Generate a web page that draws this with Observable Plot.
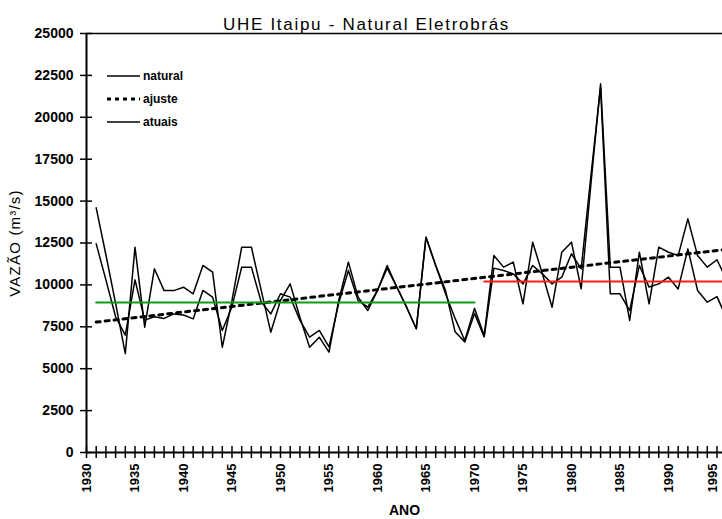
<!DOCTYPE html>
<html><head><meta charset="utf-8">
<script src="https://cdn.jsdelivr.net/npm/d3@7"></script>
<script src="https://cdn.jsdelivr.net/npm/@observablehq/plot@0.6"></script>
<style>
body{margin:0;background:#fff;}
#wrap{position:relative;width:722px;height:519px;overflow:hidden;background:#fff;}
#legend{position:absolute;left:107px;top:64px;font:bold 12px "Liberation Sans",Arial,sans-serif;color:#000;}
.row{height:23px;display:flex;align-items:center;}
.row svg{margin-right:3px;}
</style></head><body><div id="wrap"><div id="chart"></div><div id="legend"></div></div>
<script>
const titulo = "UHE Itaipu - Natural Eletrobrás";
const rotuloY = "VAZÃO (m³/s)";
const rotuloX = "ANO";
const anos = [1931,1932,1933,1934,1935,1936,1937,1938,1939,1940,1941,1942,1943,1944,1945,1946,1947,1948,1949,1950,
  1951,1952,1953,1954,1955,1956,1957,1958,1959,1960,1961,1962,1963,1964,1965,1966,1967,1968,1969,1970,
  1971,1972,1973,1974,1975,1976,1977,1978,1979,1980,1981,1982,1983,1984,1985,1986,1987,1988,1989,1990,
  1991,1992,1993,1994,1995,1996];
const natural = [14600,11800,8900,5900,12250,7480,10960,9660,9660,9860,9470,11160,10760,6280,9070,12250,12250,9700,7180,9070,
  10060,8070,6280,6880,5990,9070,11360,9270,8470,9670,11160,9860,8670,7380,12850,11160,9500,8000,6680,8600,
  6980,11750,11060,11360,8870,12550,10660,8670,11950,12550,9770,16000,22000,11060,11060,7880,11950,8870,12250,11950,
  11750,13940,11750,11060,11500,10300];
const atuais = [12450,10300,8100,7000,10300,7900,8100,8000,8270,8200,7970,9670,9270,7280,8700,11060,11060,9000,8270,9470,
  9270,7900,6880,7280,6300,8900,10860,9070,8670,9670,11000,9860,8670,7380,12850,11160,9700,7200,6600,8300,
  6900,11000,10860,10660,10060,11160,10660,10060,10460,11860,10960,16500,21800,9470,9470,8470,11160,9870,10060,10460,
  9760,12150,9670,8970,9300,8000];
const ajusteAnos = [1931, 1996];
const ajusteValores = [7780, 12120];
const mediaInicio = [1931, 1971];
const mediaFim = [1970, 1996];
const mediaValor = [8950, 10200];
const mediaCor = ["#109c10", "#ff1a1a"];
const yTicks = [0,2500,5000,7500,10000,12500,15000,17500,20000,22500,25000];
const anosTicks = [1930,1931,1932,1933,1934,1935,1936,1937,1938,1939,1940,1941,1942,1943,1944,1945,1946,1947,1948,1949,
  1950,1951,1952,1953,1954,1955,1956,1957,1958,1959,1960,1961,1962,1963,1964,1965,1966,1967,1968,1969,
  1970,1971,1972,1973,1974,1975,1976,1977,1978,1979,1980,1981,1982,1983,1984,1985,1986,1987,1988,1989,
  1990,1991,1992,1993,1994,1995];
const anosRotulos = [1930,1935,1940,1945,1950,1955,1960,1965,1970,1975,1980,1985,1990];
const anoRotuloBorda = [1995];
const legendaNomes = ["natural","ajuste","atuais"];
const legendaTracos = [null, "4,4", null];
const legendaEspessura = [1.5, 3, 1.5];

const rows = anos.map((a,i)=>({ano:a, natural:natural[i], atuais:atuais[i]}));
const ajuste = ajusteAnos.map((a,i)=>({ano:a, v:ajusteValores[i]}));
const medias = [];
mediaInicio.forEach((a,i)=>{
  medias.push({periodo:i, ano:a, v:mediaValor[i], cor:mediaCor[i]});
  medias.push({periodo:i, ano:mediaFim[i], v:mediaValor[i], cor:mediaCor[i]});
});
const font = "'Liberation Sans', Arial, sans-serif";
const rotuloX_opts = {tickSize:0, tickPadding:11, tickRotate:-90, tickFormat:d=>String(d), fontSize:13, fontWeight:"bold", label:null};

const chart = Plot.plot({
  width:722, height:519, marginLeft:86, marginRight:0, marginTop:33, marginBottom:67,
  style:{fontFamily:font, background:"#fff", color:"#000"},
  x:{domain:[1930, 1995.57]},
  y:{domain:[0,25000]},
  marks:[
    Plot.line(rows, {x:"ano", y:"atuais", stroke:"#000", strokeWidth:1.5, clip:true}),
    Plot.line(rows, {x:"ano", y:"natural", stroke:"#000", strokeWidth:1.5, clip:true}),
    Plot.line(ajuste, {x:"ano", y:"v", stroke:"#000", strokeWidth:3, strokeDasharray:"4,5", clip:true}),
    Plot.line(medias, {x:"ano", y:"v", z:"periodo", stroke:"cor", strokeWidth:2, clip:true}),
    Plot.ruleX([1930], {strokeWidth:2}),
    Plot.ruleY([0], {strokeWidth:2}),
    Plot.ruleY([25000], {strokeWidth:1.5}),
    Plot.axisY({ticks:yTicks, tickSize:12, dx:6, text:null, label:null, strokeWidth:1.5}),
    Plot.axisY({ticks:yTicks, tickSize:0, tickPadding:13, tickFormat:d=>String(d), fontSize:14, fontWeight:"bold", label:null}),
    Plot.axisX({ticks:anosTicks, tickSize:12, dy:-6, text:null, label:null, strokeWidth:1.5}),
    Plot.axisX({ticks:anosRotulos, ...rotuloX_opts}),
    Plot.axisX({ticks:anoRotuloBorda, ...rotuloX_opts, dx:-4}),
    Plot.text([titulo], {frameAnchor:"top", dx:-38, dy:-4, lineAnchor:"bottom", fontSize:17}),
    Plot.text([rotuloY], {frameAnchor:"left", dx:-71, rotate:-90, textAnchor:"middle", fontSize:15}),
    Plot.text([rotuloX], {frameAnchor:"bottom", dy:62, lineAnchor:"bottom", fontSize:14, fontWeight:"bold"})
  ]
});
document.getElementById("chart").appendChild(chart);
d3.select(chart).selectAll("text").each(function(){
  const t = this.textContent;
  if (t === titulo) d3.select(this).style("letter-spacing","1.7px");
  if (t === rotuloY) d3.select(this).style("letter-spacing","1.2px");
});

const leg = d3.select("#legend");
legendaNomes.forEach((n,i)=>{
  const r = leg.append("div").attr("class","row");
  const s = r.append("svg").attr("width",33).attr("height",10);
  s.append("line").attr("x1",0).attr("x2",33).attr("y1",5).attr("y2",5)
    .attr("stroke","#000").attr("stroke-width",legendaEspessura[i])
    .attr("stroke-dasharray",legendaTracos[i]);
  r.append("span").text(n);
});
</script></body></html>
